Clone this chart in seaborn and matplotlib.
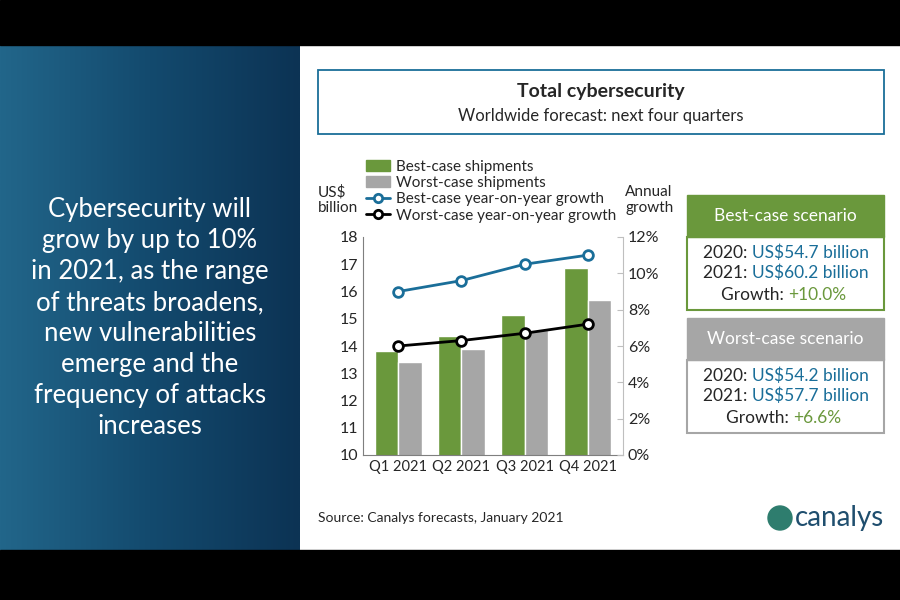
import numpy as np
import pandas as pd
import matplotlib.pyplot as plt
import seaborn as sns
from matplotlib.patches import Rectangle, Patch, Ellipse
from matplotlib.lines import Line2D

quarters = ['Q1 2021', 'Q2 2021', 'Q3 2021', 'Q4 2021']
best_ship = [13.8, 14.35, 15.15, 16.85]
worst_ship = [13.4, 13.9, 14.6, 15.7]
best_growth = [9.0, 9.6, 10.5, 11.0]
worst_growth = [6.0, 6.3, 6.7, 7.2]

green = '#6a983c'
grey = '#a6a6a6'
blue = '#1a6e99'

sns.set_style('white')
plt.rcParams['font.family'] = ['Lato', 'DejaVu Sans']

fig = plt.figure(figsize=(9, 6), dpi=100)
fig.patch.set_facecolor('white')

# black bands and left panel
fig.add_artist(Rectangle((0, 0), 1, 50 / 600, color='black', transform=fig.transFigure))
fig.add_artist(Rectangle((0, 555 / 600), 1, 45 / 600, color='black', transform=fig.transFigure))
bg = fig.add_axes([0, 50 / 600, 300 / 900, 505 / 600])
grad = np.linspace(0, 1, 256).reshape(1, -1)
bg.imshow(np.vstack([grad] * 10), aspect='auto',
          cmap=sns.blend_palette(['#22668a', '#134a6e', '#0c3354'], as_cmap=True))
bg.axis('off')
fig.text(150 / 900, 0.47, 'Cybersecurity will\ngrow by up to 10%\nin 2021, as the range\nof threats broadens,\nnew vulnerabilities\nemerge and the\nfrequency of attacks\nincreases',
         color='white', ha='center', va='center', fontsize=18.5, linespacing=1.3)

# title box
fig.add_artist(Rectangle((318 / 900, 466 / 600), 566 / 900, 64 / 600, fill=False, ec=blue, lw=1.3, transform=fig.transFigure))
fig.text(601 / 900, 508 / 600, 'Total cybersecurity', ha='center', va='center', fontsize=14, fontweight='bold')
fig.text(601 / 900, 484 / 600, 'Worldwide forecast: next four quarters', ha='center', va='center', fontsize=12)

# chart
df = pd.DataFrame({'Quarter': quarters * 2,
                   'Value': best_ship + worst_ship,
                   'Case': ['Best'] * 4 + ['Worst'] * 4})
ax = fig.add_axes([363 / 900, 145 / 600, 260 / 900, 218 / 600])
sns.barplot(data=df, x='Quarter', y='Value', hue='Case', palette=[green, grey], width=0.75, ax=ax, legend=False, saturation=1)
ax.set_ylim(10, 18)
ax.set_yticks(range(10, 19))
ax.set_xlabel('')
ax.set_ylabel('')
ax.tick_params(axis='y', labelsize=11.5, length=0)
ax.tick_params(axis='x', labelsize=10.5, length=0)
for s in ['top', 'right']:
    ax.spines[s].set_visible(False)
for s in ['left', 'bottom']:
    ax.spines[s].set_color('#7f7f7f')

ax2 = ax.twinx()
ax2.plot(range(4), best_growth, color=blue, lw=2, marker='o', ms=7, mfc='white', mew=2)
ax2.plot(range(4), worst_growth, color='black', lw=2, marker='o', ms=7, mfc='white', mew=2)
ax2.set_ylim(0, 12)
ax2.set_yticks(range(0, 13, 2))
ax2.set_yticklabels([f'{v}%' for v in range(0, 13, 2)])
ax2.tick_params(labelsize=11.5, length=4, direction='in', color='#bfbfbf')
for s in ['top', 'left', 'bottom']:
    ax2.spines[s].set_visible(False)
ax2.spines['right'].set_color('#bfbfbf')

fig.text(318 / 900, 400 / 600, 'US$\nbillion', fontsize=11, va='center', linespacing=1.1)
fig.text(625 / 900, 400 / 600, 'Annual\ngrowth', fontsize=11, va='center', linespacing=1.1)

handles = [Patch(color=green), Patch(color=grey),
           Line2D([], [], color=blue, lw=2, marker='o', mfc='white', mew=2),
           Line2D([], [], color='black', lw=2, marker='o', mfc='white', mew=2)]
labels = ['Best-case shipments', 'Worst-case shipments',
          'Best-case year-on-year growth', 'Worst-case year-on-year growth']
fig.legend(handles, labels, loc='upper left', bbox_to_anchor=(358 / 900, 448 / 600), frameon=False,
           fontsize=11, handlelength=1.6, handletextpad=0.4, labelspacing=0.15, borderpad=0)

# scenario boxes
def scenario(top, colour, head, lines, growth, gsplit):
    x0, w = 687 / 900, 197 / 900
    fig.add_artist(Rectangle((x0, (600 - top - 42) / 600), w, 42 / 600, color=colour, transform=fig.transFigure))
    fig.add_artist(Rectangle((x0, (600 - top - 115) / 600), w, 73 / 600, fill=False, ec=colour, lw=1.5, transform=fig.transFigure))
    fig.text(x0 + w / 2, (600 - top - 21) / 600, head, color='white', ha='center', va='center', fontsize=12.5)
    cx = x0 + w / 2
    for i, (yr, val) in enumerate(lines):
        y = (600 - top - 58 - 20 * i) / 600
        fig.text(cx - 0.037, y, f'{yr}: ', ha='right', va='center', fontsize=12.5)
        fig.text(cx - 0.037, y, val, ha='left', va='center', fontsize=12.5, color=blue)
    y = (600 - top - 100) / 600
    fig.text(cx + gsplit, y, 'Growth: ', ha='right', va='center', fontsize=12.5)
    fig.text(cx + gsplit, y, growth, ha='left', va='center', fontsize=12.5, color=green)

scenario(195, green, 'Best-case scenario', [('2020', 'US$54.7 billion'), ('2021', 'US$60.2 billion')], '+10.0%', 0.003)
scenario(318, grey, 'Worst-case scenario', [('2020', 'US$54.2 billion'), ('2021', 'US$57.7 billion')], '+6.6%', 0.009)

fig.text(318 / 900, 78 / 600, 'Source: Canalys forecasts, January 2021', fontsize=10)
fig.text(884 / 900, 82 / 600, 'canalys', fontsize=20, ha='right', va='center', color='#1f4e6e')
fig.add_artist(Ellipse((780 / 900, 82 / 600), 24 / 900, 24 / 600, color='#2e7d6e', transform=fig.transFigure))

fig.savefig('out.png', dpi=100)
